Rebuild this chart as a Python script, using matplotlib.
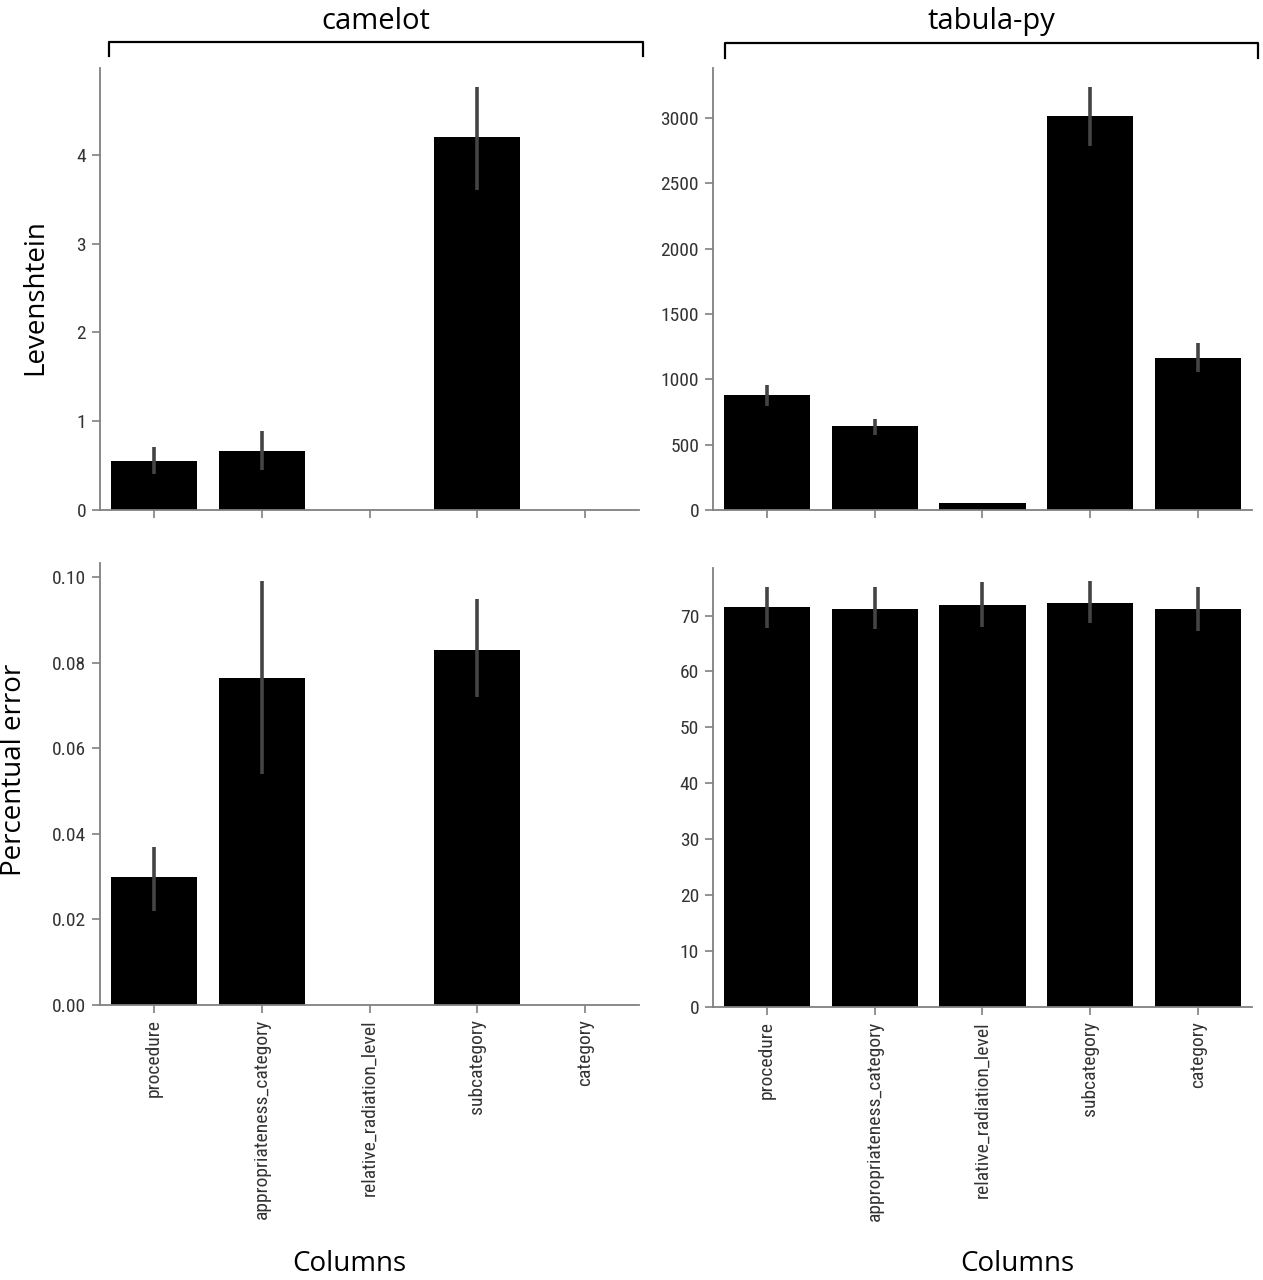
import numpy as np
import matplotlib
matplotlib.use("Agg")
import matplotlib.pyplot as plt
from matplotlib.lines import Line2D
from matplotlib.ticker import MultipleLocator, FormatStrFormatter

# data (bar height, lower / upper end of the CI bar)
columns = ["procedure", "appropriateness_category", "relative_radiation_level",
           "subcategory", "category"]

camelot_lev = [0.55, 0.67, 0.0, 4.20, 0.0]
camelot_lev_lo = [0.41, 0.45, 0.0, 3.60, 0.0]
camelot_lev_hi = [0.71, 0.89, 0.0, 4.77, 0.0]

tabula_lev = [880, 640, 50, 3020, 1165]
tabula_lev_lo = [800, 575, 50, 2790, 1060]
tabula_lev_hi = [960, 695, 50, 3240, 1275]

camelot_pct = [0.030, 0.0765, 0.0, 0.083, 0.0]
camelot_pct_lo = [0.022, 0.054, 0.0, 0.072, 0.0]
camelot_pct_hi = [0.037, 0.099, 0.0, 0.095, 0.0]

tabula_pct = [71.6, 71.2, 71.9, 72.3, 71.2]
tabula_pct_lo = [67.7, 67.6, 68.0, 68.6, 67.2]
tabula_pct_hi = [75.1, 75.1, 76.0, 76.1, 75.1]

W, H = 1263, 1280
tick_font = ["Roboto Condensed", "DejaVu Sans"]
label_font = ["Open Sans", "DejaVu Sans"]
spine_col = "#808080"

fig = plt.figure(figsize=(W / 100, H / 100), dpi=100)


def px_axes(x0, y_top, x1, y_bot):
    return fig.add_axes([x0 / W, 1 - y_bot / H, (x1 - x0) / W, (y_bot - y_top) / H])


def draw_panel(ax, vals, lo, hi, ylim, step, fmt, show_x):
    x = np.arange(len(columns))
    ax.bar(x, vals, width=0.8, color="black", zorder=2)
    ax.vlines(x, lo, hi, color="#444444", lw=2.6, zorder=3)
    ax.set_xlim(-0.5, len(columns) - 0.5)
    ax.set_ylim(*ylim)
    ax.yaxis.set_major_locator(MultipleLocator(step))
    ax.yaxis.set_major_formatter(FormatStrFormatter(fmt))
    for s in ["top", "right"]:
        ax.spines[s].set_visible(False)
    for s in ["left", "bottom"]:
        ax.spines[s].set_color(spine_col)
        ax.spines[s].set_linewidth(1.3)
    ax.tick_params(direction="out", length=6, width=1.2, color=spine_col,
                   labelcolor="#333333", pad=4)
    ax.set_xticks(x)
    if show_x:
        ax.set_xticklabels(columns, rotation=90, family=tick_font, fontsize=14)
    else:
        ax.set_xticklabels([])
    for lab in ax.get_yticklabels():
        lab.set_family(tick_font)
        lab.set_fontsize(14)


ax1 = px_axes(100, 68, 639, 510)
ax2 = px_axes(713, 68, 1252, 510)
ax3 = px_axes(100, 563, 639, 1005)
ax4 = px_axes(713, 568, 1252, 1007)

draw_panel(ax1, camelot_lev, camelot_lev_lo, camelot_lev_hi, (0, 4.98), 1, "%d", False)
draw_panel(ax2, tabula_lev, tabula_lev_lo, tabula_lev_hi, (0, 3384), 500, "%d", False)
draw_panel(ax3, camelot_pct, camelot_pct_lo, camelot_pct_hi, (0, 0.1033), 0.02, "%.2f", True)
draw_panel(ax4, tabula_pct, tabula_pct_lo, tabula_pct_hi, (0, 78.5), 10, "%d", True)

# brackets with library names on top
def bracket(x0, x1, y, leg, name, ty):
    xs = [x0 / W, x0 / W, x1 / W, x1 / W]
    ys = [1 - (y + leg) / H, 1 - y / H, 1 - y / H, 1 - (y + leg) / H]
    fig.add_artist(Line2D(xs, ys, transform=fig.transFigure, color="black", lw=1.6))
    fig.text((x0 + x1) / 2 / W, 1 - ty / H, name, ha="center", va="baseline",
             family=label_font, fontsize=21)

bracket(109, 643, 42, 14, "camelot", 29)
bracket(725, 1258, 43, 15, "tabula-py", 29)

fig.text(35 / W, 1 - 297 / H, "Levenshtein", rotation=90, ha="center", va="center",
         family=label_font, fontsize=20)
fig.text(14 / W, 1 - 770 / H, "Percentual error", rotation=90, ha="center", va="center",
         family=label_font, fontsize=20)
fig.text(349 / W, 1 - 1271 / H, "Columns", ha="center", va="baseline",
         family=label_font, fontsize=20)
fig.text(1017 / W, 1 - 1271 / H, "Columns", ha="center", va="baseline",
         family=label_font, fontsize=20)

fig.savefig("out.png", dpi=100)
